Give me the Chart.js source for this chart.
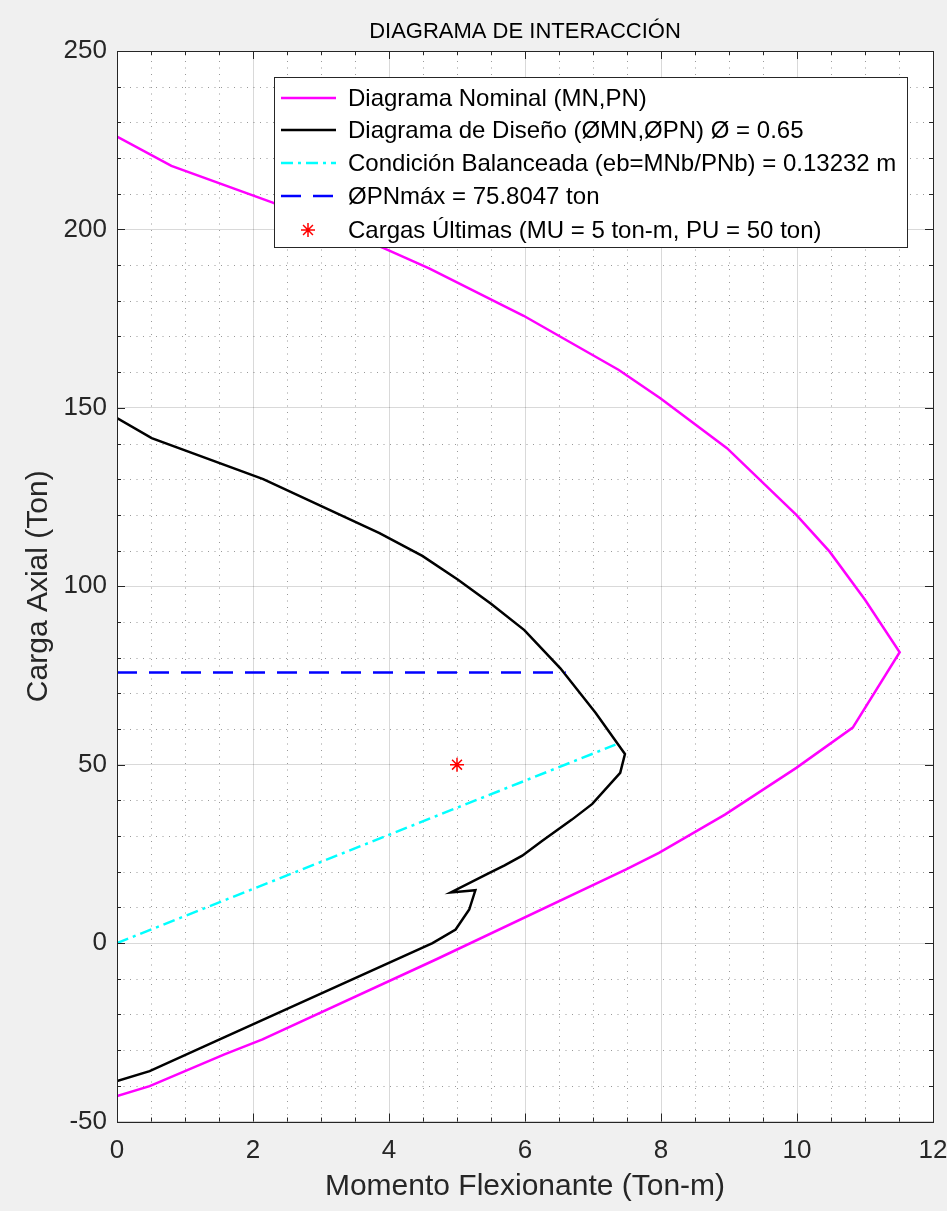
<!DOCTYPE html>
<html>
<head>
<meta charset="utf-8">
<script src="https://cdn.jsdelivr.net/npm/chart.js@4"></script>
<style>
  html, body { margin: 0; padding: 0; background: #f0f0f0; }
  canvas { display: block; }
</style>
</head>
<body>
<canvas id="chart" width="947" height="1211"></canvas>
<script>
// Diagrama nominal (MN, PN)
const nominalM = [0, 0.8, 2.29, 3.93, 4.59, 5.98, 7.38, 7.99, 8.97, 9.99, 10.48, 11.0, 11.51, 10.82, 9.99, 8.94, 7.97, 7.48, 4.69, 2.14, 1.58, 0.48, 0];
const nominalP = [226, 217.8, 207.5, 194.7, 189.1, 175.8, 160.6, 152.7, 138.7, 120.0, 109.7, 96.2, 81.5, 60.4, 49.1, 36.0, 25.3, 20.6, -4.6, -27.0, -31.2, -40.1, -42.9];

// Diagrama de diseño (ØMN, ØPN)
const disenoM = [0, 0.51, 2.15, 3.86, 4.49, 5.01, 5.5, 5.99, 6.52, 7.04, 7.47, 7.4, 6.99, 6.69, 6.25, 5.96, 5.7, 5.47, 4.91, 5.27, 5.18, 4.98, 4.64, 1.51, 0.48, 0];
const disenoP = [147.1, 141.5, 130.0, 114.9, 108.5, 101.9, 95.1, 87.7, 77.0, 64.5, 53.0, 47.7, 39.0, 34.6, 28.6, 24.5, 21.8, 19.6, 14.2, 14.8, 9.4, 3.8, 0, -27.0, -35.9, -38.7];

// Condición balanceada
const balanceadaM = [0, 7.33];
const balanceadaP = [0, 55.6];

// ØPN máx
const pnMaxM = [0, 6.6];
const pnMaxP = [75.8047, 75.8047];

// Cargas últimas
const cargasM = [5];
const cargasP = [50];

const seriesLabels = [
  'Diagrama Nominal (MN,PN)',
  'Diagrama de Diseño (ØMN,ØPN) Ø = 0.65',
  'Condición Balanceada (eb=MNb/PNb) = 0.13232 m',
  'ØPNmáx = 75.8047 ton',
  'Cargas Últimas (MU = 5 ton-m, PU = 50 ton)'
];

const xTicks = [0, 2, 4, 6, 8, 10, 12];
const yTicks = [-50, 0, 50, 100, 150, 200, 250];
const xMinorStep = 0.5;
const yMinorStep = 10;

function pts(xs, ys) {
  return xs.map((v, i) => ({ x: v, y: ys[i] }));
}

Chart.defaults.font.family = "'Liberation Sans', Arial, Helvetica, sans-serif";
Chart.defaults.color = '#262626';

const axisColor = '#262626';

const matlabAxes = {
  id: 'matlabAxes',
  beforeDraw(chart) {
    const { ctx, chartArea: a } = chart;
    ctx.save();
    ctx.fillStyle = '#f0f0f0';
    ctx.fillRect(0, 0, chart.width, chart.height);
    ctx.fillStyle = '#ffffff';
    ctx.fillRect(a.left, a.top, a.right - a.left, a.bottom - a.top);
    ctx.restore();
  },
  beforeDatasetsDraw(chart) {
    const { ctx, chartArea: a, scales: { x, y } } = chart;
    ctx.save();
    ctx.strokeStyle = 'rgba(0,0,0,0.4)';
    ctx.lineWidth = 1;
    ctx.setLineDash([1, 5.5]);
    ctx.beginPath();
    for (let v = x.min; v <= x.max + 1e-9; v += xMinorStep) {
      if (xTicks.includes(v)) continue;
      const px = Math.round(x.getPixelForValue(v)) + 0.5;
      ctx.moveTo(px, a.bottom);
      ctx.lineTo(px, a.top);
    }
    for (let v = y.min; v <= y.max + 1e-9; v += yMinorStep) {
      if (yTicks.includes(v)) continue;
      const py = Math.round(y.getPixelForValue(v)) + 0.5;
      ctx.moveTo(a.left, py);
      ctx.lineTo(a.right, py);
    }
    ctx.stroke();
    ctx.restore();
  },
  afterDatasetsDraw(chart) {
    const { ctx, chartArea: a, scales: { x, y } } = chart;
    ctx.save();
    ctx.strokeStyle = axisColor;
    ctx.lineWidth = 1;
    ctx.beginPath();
    for (let v = x.min; v <= x.max + 1e-9; v += xMinorStep) {
      const len = xTicks.includes(v) ? 8 : 4;
      const px = Math.round(x.getPixelForValue(v)) + 0.5;
      ctx.moveTo(px, a.bottom); ctx.lineTo(px, a.bottom - len);
      ctx.moveTo(px, a.top); ctx.lineTo(px, a.top + len);
    }
    for (let v = y.min; v <= y.max + 1e-9; v += yMinorStep) {
      const len = yTicks.includes(v) ? 8 : 4;
      const py = Math.round(y.getPixelForValue(v)) + 0.5;
      ctx.moveTo(a.left, py); ctx.lineTo(a.left + len, py);
      ctx.moveTo(a.right, py); ctx.lineTo(a.right - len, py);
    }
    ctx.stroke();
    ctx.strokeRect(Math.round(a.left) + 0.5, Math.round(a.top) + 0.5,
      Math.round(a.right - a.left), Math.round(a.bottom - a.top));
    ctx.restore();
  },
  afterDraw(chart) {
    // legend box inside the axes, top right
    const { ctx } = chart;
    const box = { left: 274, top: 77, right: 907, bottom: 247 };
    const rowY = [98, 130, 163, 196, 230];
    ctx.save();
    ctx.fillStyle = '#ffffff';
    ctx.fillRect(box.left, box.top, box.right - box.left, box.bottom - box.top);
    ctx.strokeStyle = axisColor;
    ctx.lineWidth = 1;
    ctx.strokeRect(box.left + 0.5, box.top + 0.5, box.right - box.left, box.bottom - box.top);

    chart.data.datasets.forEach((ds, i) => {
      const yy = rowY[i];
      ctx.save();
      ctx.strokeStyle = ds.borderColor;
      ctx.lineWidth = ds.borderWidth;
      if (ds.showLine) {
        ctx.setLineDash(ds.borderDash || []);
        ctx.beginPath();
        ctx.moveTo(281, yy);
        ctx.lineTo(336, yy);
        ctx.stroke();
      } else {
        ctx.setLineDash([]);
        const r = ds.pointRadius;
        ctx.beginPath();
        for (let k = 0; k < 4; k++) {
          const ang = k * Math.PI / 4;
          ctx.moveTo(308 - r * Math.cos(ang), yy - r * Math.sin(ang));
          ctx.lineTo(308 + r * Math.cos(ang), yy + r * Math.sin(ang));
        }
        ctx.stroke();
      }
      ctx.restore();
      ctx.fillStyle = '#000000';
      ctx.font = "24px 'Liberation Sans', Arial, sans-serif";
      ctx.textBaseline = 'middle';
      ctx.textAlign = 'left';
      ctx.fillText(ds.label, 348, yy + 1);
    });
    ctx.restore();
  }
};

const ctx = document.getElementById('chart');

new Chart(ctx, {
  type: 'scatter',
  data: {
    datasets: [{
      label: seriesLabels[0],
      data: pts(nominalM, nominalP),
      showLine: true,
      borderColor: '#ff00ff',
      backgroundColor: '#ff00ff',
      borderWidth: 2.5,
      pointRadius: 0,
      order: 5
    }, {
      label: seriesLabels[1],
      data: pts(disenoM, disenoP),
      showLine: true,
      borderColor: '#000000',
      backgroundColor: '#000000',
      borderWidth: 2.5,
      pointRadius: 0,
      order: 4
    }, {
      label: seriesLabels[2],
      data: pts(balanceadaM, balanceadaP),
      showLine: true,
      borderColor: '#00ffff',
      backgroundColor: '#00ffff',
      borderWidth: 2.5,
      borderDash: [12, 5, 3, 5],
      pointRadius: 0,
      order: 3
    }, {
      label: seriesLabels[3],
      data: pts(pnMaxM, pnMaxP),
      showLine: true,
      borderColor: '#0000ff',
      backgroundColor: '#0000ff',
      borderWidth: 2.5,
      borderDash: [20, 12],
      pointRadius: 0,
      order: 2
    }, {
      label: seriesLabels[4],
      data: pts(cargasM, cargasP),
      showLine: false,
      borderColor: '#ff0000',
      backgroundColor: '#ff0000',
      borderWidth: 1.5,
      pointStyle: 'star',
      pointRadius: 7,
      pointHoverRadius: 7,
      order: 1
    }]
  },
  options: {
    responsive: false,
    animation: false,
    devicePixelRatio: 1,
    layout: { padding: { top: 0, right: 0, bottom: 0, left: 0 } },
    plugins: {
      legend: { display: false },
      tooltip: { enabled: false },
      title: {
        display: true,
        text: 'DIAGRAMA DE INTERACCIÓN',
        fullSize: false,
        color: '#000000',
        font: { size: 22, weight: 'normal' },
        padding: { top: 19, bottom: 5.6 }
      }
    },
    scales: {
      x: {
        type: 'linear',
        min: 0,
        max: 12,
        afterBuildTicks: s => { s.ticks = xTicks.map(v => ({ value: v })); },
        afterFit: s => { s.height = 89.5; s.paddingLeft = 0; s.paddingRight = 14; },
        grid: { color: 'rgba(0,0,0,0.15)', drawTicks: false },
        border: { display: false },
        ticks: { font: { size: 26 }, padding: 14, maxRotation: 0 },
        title: {
          display: true,
          text: 'Momento Flexionante (Ton-m)',
          font: { size: 30 },
          padding: { top: 0, bottom: 6 }
        }
      },
      y: {
        type: 'linear',
        min: -50,
        max: 250,
        afterBuildTicks: s => { s.ticks = yTicks.map(v => ({ value: v })); },
        afterFit: s => { s.width = 117; },
        grid: { color: 'rgba(0,0,0,0.15)', drawTicks: false },
        border: { display: false },
        ticks: { font: { size: 26 }, padding: 10 },
        title: {
          display: true,
          text: 'Carga Axial (Ton)',
          font: { size: 30 },
          padding: { top: 21, bottom: 0 }
        }
      }
    }
  },
  plugins: [matlabAxes]
});
</script>
</body>
</html>
